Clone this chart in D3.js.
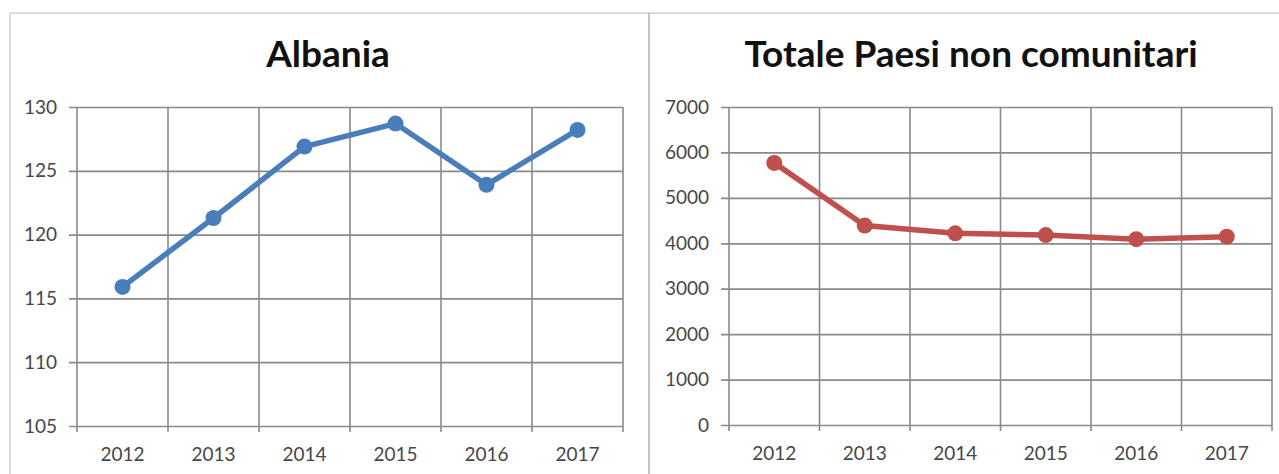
<!DOCTYPE html>
<html>
<head>
<meta charset="utf-8">
<script src="https://cdn.jsdelivr.net/npm/d3@7"></script>
<style>
  html, body { margin: 0; padding: 0; background: #ffffff; }
  svg { display: block; }
  .tick text { font-family: Lato, "Open Sans", sans-serif; }
</style>
</head>
<body>
<svg id="chart" width="1279" height="474"></svg>
<script>
// Years shown on both panels
const years = ["2012", "2013", "2014", "2015", "2016", "2017"];

// Albania series
const albaniaValues = [115.9, 121.3, 126.9, 128.7, 123.9, 128.2];
const albaniaTicks = [105, 110, 115, 120, 125, 130];

// Total of non-EU countries series
const totaleValues = [5770, 4390, 4220, 4180, 4090, 4145];
const totaleTicks = [0, 1000, 2000, 3000, 4000, 5000, 6000, 7000];

const titles = ["Albania", "Totale Paesi non comunitari"];

const svg = d3.select("#chart");

// Panel frames
svg.append("line").attr("x1", 10).attr("x2", 1279).attr("y1", 13).attr("y2", 13)
  .attr("stroke", "#dadada").attr("stroke-width", 2);
svg.append("line").attr("x1", 10).attr("x2", 10).attr("y1", 13).attr("y2", 474)
  .attr("stroke", "#dadada").attr("stroke-width", 2);
svg.append("line").attr("x1", 649).attr("x2", 649).attr("y1", 13).attr("y2", 474)
  .attr("stroke", "#c4c4c4").attr("stroke-width", 2);

const panels = [
  { title: titles[0], titleX: 328, values: albaniaValues, ticks: albaniaTicks,
    left: 77, right: 623, top: 107, bottom: 426, color: "#4a7ebb" },
  { title: titles[1], titleX: 971, values: totaleValues, ticks: totaleTicks,
    left: 729, right: 1272, top: 107, bottom: 425, color: "#c0504d" }
];

const gridColor = "#8a8a8a";

panels.forEach(p => {
  const g = svg.append("g");

  g.append("text")
    .attr("x", p.titleX).attr("y", 67)
    .attr("text-anchor", "middle")
    .attr("font-family", "Lato, 'Open Sans', sans-serif")
    .attr("font-weight", 700)
    .attr("font-size", 37)
    .attr("fill", "#111111")
    .text(p.title);

  const x = d3.scaleBand().domain(years).range([p.left, p.right]);
  const y = d3.scaleLinear()
    .domain([d3.min(p.ticks), d3.max(p.ticks)])
    .range([p.bottom, p.top]);

  // Horizontal gridlines + value labels
  const yAxis = d3.axisLeft(y)
    .tickValues(p.ticks)
    .tickSize(-(p.right - p.left + 8))
    .tickPadding(12)
    .tickFormat(d3.format("d"));
  const ya = g.append("g")
    .attr("transform", `translate(${p.left - 8},0)`)
    .call(yAxis);
  ya.select(".domain").remove();
  ya.selectAll(".tick line").attr("stroke", gridColor).attr("stroke-width", 1.7);
  ya.selectAll(".tick text")
    .attr("font-size", 19).attr("fill", "#474747");

  // Vertical gridlines at category boundaries, with ticks below the axis
  const edges = years.map(d => x(d)).concat([x.range()[1]]);
  g.append("g").selectAll("line").data(edges).join("line")
    .attr("x1", d => d).attr("x2", d => d)
    .attr("y1", p.top).attr("y2", p.bottom + 6)
    .attr("stroke", gridColor).attr("stroke-width", 1.6);

  // Category labels
  const xAxis = d3.axisBottom(x).tickSize(0).tickPadding(22);
  const xa = g.append("g")
    .attr("transform", `translate(0,${p.bottom})`)
    .call(xAxis);
  xa.select(".domain").remove();
  xa.selectAll(".tick text")
    .attr("font-size", 19).attr("fill", "#474747");

  // Series line and markers
  const pts = years.map((d, i) => [x(d) + x.bandwidth() / 2, y(p.values[i])]);
  g.append("path")
    .attr("d", d3.line()(pts))
    .attr("fill", "none")
    .attr("stroke", p.color)
    .attr("stroke-width", 5.5)
    .attr("stroke-linejoin", "round")
    .attr("stroke-linecap", "round");
  g.append("g").selectAll("circle").data(pts).join("circle")
    .attr("cx", d => d[0]).attr("cy", d => d[1])
    .attr("r", 8)
    .attr("fill", p.color);
});
</script>
</body>
</html>
